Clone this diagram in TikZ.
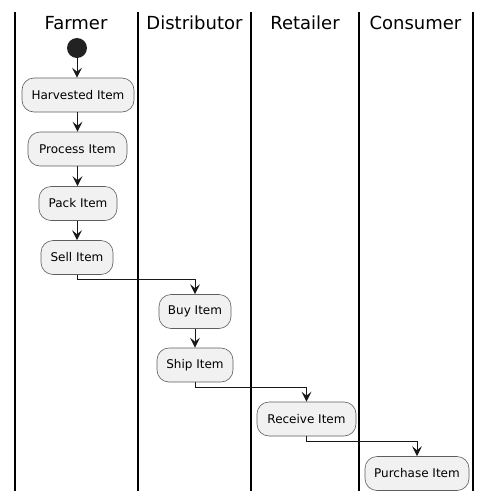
\documentclass[tikz,border=0pt]{standalone}
\usepackage{fontspec}
\setmainfont{DejaVu Sans}
\usetikzlibrary{arrows.meta}
\definecolor{boxfill}{HTML}{F1F1F1}
\definecolor{boxline}{HTML}{5E5E5E}
\definecolor{arrowc}{HTML}{181818}
\definecolor{startc}{HTML}{222222}
\begin{document}
\begin{tikzpicture}[x=1pt,y=-1pt,
  act/.style={draw=boxline, fill=boxfill, line width=0.6pt, rounded corners=12pt,
    minimum height=34pt, inner sep=0pt, font=\fontsize{12}{14}\selectfont},
  lane/.style={line width=1.4pt, black},
  title/.style={font=\fontsize{18}{21}\selectfont, anchor=base, inner sep=0pt},
  flow/.style={draw=arrowc, line width=1pt, -{Stealth[length=10pt,width=10pt,inset=4pt]}}
]
\useasboundingbox (0,0) rectangle (492,501);
\fill[white] (0,0) rectangle (492,501);
% lanes
\foreach \x/\n in {15/l0,138/l1,251/l2,359/l3,473/l4}{
  \coordinate (\n t) at (\x,12);
  \coordinate (\n b) at (\x,491);
  \draw[lane] (\n t) -- (\n b);
}
\node[title] (tf) at (76,29) {Farmer};
\node[title] (td) at (194.5,29) {Distributor};
\node[title] (tr) at (305,29) {Retailer};
\node[title] (tc) at (415.5,29) {Consumer};
% start
\node[circle, fill=startc, minimum size=20pt, inner sep=0pt] (start) at (77,48) {};
% activities
\node[act, minimum width=112pt] (harv) at (78,95) {Harvested Item};
\node[act, minimum width=99pt] (proc) at (77.5,149) {Process Item};
\node[act, minimum width=78pt] (pack) at (78,203.5) {Pack Item};
\node[act, minimum width=72pt] (sell) at (77,257.5) {Sell Item};
\node[act, minimum width=72pt] (buy) at (195,311.5) {Buy Item};
\node[act, minimum width=76pt] (ship) at (195,365) {Ship Item};
\node[act, minimum width=99pt] (recv) at (306.5,419) {Receive Item};
\node[act, minimum width=104pt] (purch) at (417,473.5) {Purchase Item};
% flows
\draw[flow] (start.south -| harv.north) ++(-1,0) -- ([xshift=-1pt]harv.north);
\draw[flow] (harv.south -| proc.north) -- (proc.north);
\draw[flow] (proc.south) -- (proc.south |- pack.north);
\draw[flow] (pack.south -| sell.north) -- (sell.north);
\draw[flow] (sell.south) -- ++(0,5) -| (buy.north);
\draw[flow] (buy.south) -- (ship.north);
\draw[flow] (ship.south) -- ++(0,5) -| (recv.north);
\draw[flow] (recv.south) -- ++(0,5.5) -| (purch.north);
\end{tikzpicture}
\end{document}
